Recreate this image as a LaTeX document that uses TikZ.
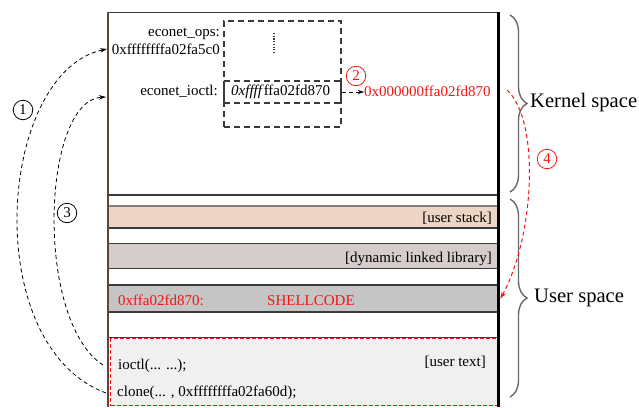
\documentclass[tikz,border=0pt]{standalone}
\usepackage{fontspec}
\setmainfont{Liberation Serif}
\usetikzlibrary{arrows.meta,decorations.pathreplacing}
\definecolor{peach}{HTML}{EDD5C5}
\definecolor{dllc}{HTML}{D5CCCC}
\definecolor{shellc}{HTML}{C5C5C5}
\definecolor{utc}{HTML}{F0F0F0}
\definecolor{linec}{HTML}{3A3A3A}
\definecolor{brownc}{HTML}{5B4638}
\definecolor{bracec}{HTML}{6A6A6A}
\definecolor{redc}{HTML}{F41414}
\tikzset{
  smalltxt/.style={inner sep=0pt, font=\fontsize{15}{18}\selectfont},
  bigtxt/.style={inner sep=0pt, font=\fontsize{20.6}{24}\selectfont},
  band/.style={draw=none, inner sep=0pt, minimum width=388pt, anchor=north west},
  sepline/.style={linec, line width=1.3pt},
  opsdash/.style={draw=linec, line width=1.3pt, dash pattern=on 6pt off 4pt},
  numc/.style={circle, draw, line width=0.8pt, minimum size=19.5pt, inner sep=0pt, font=\fontsize{15}{18}\selectfont},
  flow/.style={line width=0.8pt, dash pattern=on 4pt off 3pt, -{Stealth[length=7pt,width=4.5pt]}},
  bracestyle/.style={draw=bracec, line width=1.4pt, decorate, decoration={brace, amplitude=17pt}}
}
\begin{document}
\begin{tikzpicture}[x=1pt,y=-1pt]
\useasboundingbox (0,0) rectangle (639,407);

% bands
\node[band, fill=peach, minimum height=22pt] (stack) at (109,206) {};
\node[band, fill=dllc, minimum height=24pt] (dll) at (109,244) {};
\node[band, fill=shellc, minimum height=27pt] (shell) at (109,285) {};
\node[band, fill=utc, draw=redc, dash pattern=on 4pt off 2pt, line width=1pt, minimum width=387pt, minimum height=67pt] (utext) at (110,338) {};

% separator lines
\draw[linec, line width=1pt] (108,12) -- (499,12);
\draw[sepline, line width=1.1pt] (108,195) -- (498,195);
\draw[sepline, draw=gray, line width=2pt] (108,205.5) -- (498,205.5);
\foreach \yy in {228,243.5,268.5,285,312,337.5}
  \draw[sepline] (108,\yy) -- (498,\yy);

% borders
\draw[brownc, line width=2pt] (108,12) -- (108,407);
\draw[black, line width=2.2pt] (498.5,11.5) -- (498.5,407);

% econet_ops box
\node[opsdash, minimum width=117pt, minimum height=106pt, inner sep=0pt] (opsbox) at (282.5,74) {};
\node[opsdash, minimum width=117pt, minimum height=22pt, inner sep=0pt] (ioctlbox) at (282.5,92) {};
\draw[linec, line width=1.3pt, dash pattern=on 1.2pt off 1.5pt] (274,33) -- (274,54);

\node[smalltxt, anchor=base east] (opslbl) at (220,36) {econet\_ops:};
\node[smalltxt, anchor=base east] (opsaddr) at (220,54) {0xffffffffa02fa5c0};
\node[smalltxt, anchor=base east] (ioctllbl) at (218,95) {econet\_ioctl:};
\node[smalltxt, anchor=base west] (ioctlval) at (231,95) {\textit{0xffff}ffa02fd870};
\node[smalltxt, anchor=base west, text=redc] (target) at (364,96) {0x000000ffa02fd870};
\draw[flow, -{Stealth[length=6pt,width=4pt]}] (ioctlbox.east) -- (target.west |- ioctlbox.east);

% band texts
\node[smalltxt, anchor=base east] (stacktxt) at (492,222) {[user stack]};
\node[smalltxt, anchor=base east] (dlltxt) at (492,262) {[dynamic linked library]};
\node[smalltxt, anchor=base west, text=redc] (shaddr) at (118,305) {0xffa02fd870:};
\node[smalltxt, anchor=base west, text=redc] (shcode) at (267,305) {SHELLCODE};
\node[smalltxt, anchor=base east] (uttxt) at (486,366) {[user text]};
\node[smalltxt, anchor=base west] (ioctlcall) at (118,369) {ioctl(... ...);};
\node[smalltxt, anchor=base west] (clonecall) at (117,396) {clone(... , 0xffffffffa02fa60d);};

% braces
\draw[bracestyle] (510,15) -- (510,192);
\draw[bracestyle] (510,199) -- (510,397);
\node[bigtxt, anchor=base west] (kernel) at (530,107) {Kernel space};
\node[bigtxt, anchor=base west] (user) at (534,302) {User space};

% numbered circles
\node[numc] (n1) at (23,110) {1};
\node[numc, draw=redc, text=redc] (n2) at (356,76) {2};
\node[numc] (n3) at (67,213) {3};
\node[numc, draw=redc, text=redc] (n4) at (547,159) {4};

% flow arrows
\coordinate (a1s) at (106,393);
\coordinate (a1e) at (107,49);
\coordinate (a3s) at (103,365);
\coordinate (a3e) at (106,97);
\coordinate (a4s) at (507,90);
\draw[flow] (a1s) .. controls (-22,345) and (-2,72) .. (a1e);
\draw[flow] (a3s) .. controls (34,320) and (42,100) .. (a3e);
\draw[flow, line width=1pt, draw=redc, -{Stealth[length=7pt,width=4.5pt,fill=redc]}] (a4s) .. controls (540,120) and (535,235) .. ([xshift=3pt]shell.east);
\end{tikzpicture}
\end{document}
